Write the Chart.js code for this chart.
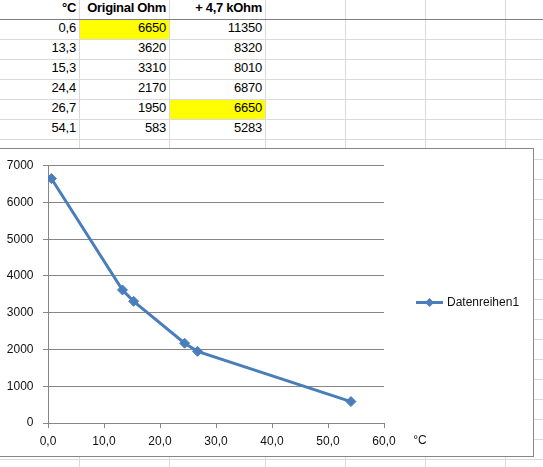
<!DOCTYPE html>
<html>
<head>
<meta charset="utf-8">
<script src="https://cdn.jsdelivr.net/npm/chart.js@4.4.1/dist/chart.umd.min.js"></script>
<style>
  html, body { margin: 0; padding: 0; background: #fff; overflow: hidden; }
  #sheet { position: absolute; left: 0; top: 0; width: 543px; height: 467px; }
  .vl { position: absolute; top: 0; width: 1px; height: 467px; background: #dadada; }
  .hl { position: absolute; left: 0; width: 543px; height: 1px; background: #dadada; }
  .hl.dark { background: #7f7f7f; }
  .cell {
    position: absolute; height: 19px; line-height: 21px; text-align: right;
    padding-right: 3px; box-sizing: border-box; white-space: nowrap;
    font: 13px 'Liberation Sans', sans-serif; color: #000; letter-spacing: -0.2px;
  }
  .cell.hdr { font-weight: bold; letter-spacing: -0.3px; }
  .cell.mark { background: #ffff00; }
  #frame { position: absolute; left: -1px; top: 148px; width: 533px; height: 307px;
           border: 1px solid #868686; background: #fff; }
  #chart { display: block; }
</style>
</head>
<body>
<div id="sheet"></div>
<div id="frame"><canvas id="chart" width="533" height="307"></canvas></div>
<script>
// spreadsheet data
const headers = ['°C', 'Original Ohm', '+ 4,7 kOhm'];
const tempC = [0.6, 13.3, 15.3, 24.4, 26.7, 54.1];
const originalOhm = [6650, 3620, 3310, 2170, 1950, 583];
const plus47kOhm = [11350, 8320, 8010, 6870, 6650, 5283];
const highlighted = ['1-1', '5-2']; // row-col of the yellow cells
const seriesName = 'Datenreihen1';
const unitLabel = '°C';

// sheet layout
const colLines = [79, 169, 265, 345, 425, 505];
const colLeft = [0, 80, 170];
const colWidth = [79, 89, 95];
const blue = '#4A7EBB';
const gray = '#868686';
const textColor = '#111';

const sheet = document.getElementById('sheet');
colLines.forEach(x => {
  const d = document.createElement('div');
  d.className = 'vl'; d.style.left = x + 'px';
  sheet.appendChild(d);
});
for (let r = 0; r < 24; r++) {
  const d = document.createElement('div');
  d.className = 'hl' + (r === 0 ? ' dark' : '');
  d.style.top = (19 + r * 20) + 'px';
  sheet.appendChild(d);
}

function fmt(v) { return String(v).replace('.', ','); }
const rows = [headers].concat(tempC.map((t, i) => [t.toFixed(1), originalOhm[i], plus47kOhm[i]].map(fmt)));
rows.forEach((row, r) => {
  row.forEach((txt, c) => {
    const d = document.createElement('div');
    d.className = 'cell' + (r === 0 ? ' hdr' : '') + (highlighted.includes(r + '-' + c) ? ' mark' : '');
    d.style.left = colLeft[c] + 'px';
    d.style.width = colWidth[c] + 'px';
    d.style.top = (r * 20) + 'px';
    d.textContent = txt;
    sheet.appendChild(d);
  });
});

// unit label + legend drawn beside the plot, like Excel
const sheetExtras = {
  id: 'sheetExtras',
  afterDraw(chart) {
    const ctx = chart.ctx;
    const xs = chart.scales.x;
    ctx.save();
    ctx.font = '12px "Liberation Sans", sans-serif';
    ctx.fillStyle = textColor;
    ctx.textAlign = 'center';
    ctx.textBaseline = 'middle';
    ctx.fillText(unitLabel, xs.right + 36, xs.top + 5 + 6 + 7);

    const ds = chart.data.datasets[0];
    const ly = chart.height / 2;
    const lx = xs.right + 32;
    ctx.strokeStyle = ds.borderColor;
    ctx.lineWidth = 3;
    ctx.beginPath();
    ctx.moveTo(lx, ly); ctx.lineTo(lx + 27, ly);
    ctx.stroke();
    const cx = lx + 13.5, r = 4.5;
    ctx.fillStyle = ds.backgroundColor;
    ctx.beginPath();
    ctx.moveTo(cx, ly - r); ctx.lineTo(cx + r, ly); ctx.lineTo(cx, ly + r); ctx.lineTo(cx - r, ly);
    ctx.closePath(); ctx.fill();

    ctx.fillStyle = textColor;
    ctx.font = '12px "Liberation Sans", sans-serif';
    ctx.textAlign = 'left';
    ctx.fillText(ds.label, lx + 31, ly);
    ctx.restore();
  }
};

const tickFont = { family: 'Liberation Sans', size: 12 };

new Chart(document.getElementById('chart'), {
  type: 'scatter',
  data: {
    datasets: [{
      label: seriesName,
      data: tempC.map((x, i) => ({ x: x, y: originalOhm[i] })),
      showLine: true,
      borderColor: blue,
      backgroundColor: blue,
      borderWidth: 3,
      pointStyle: 'rectRot',
      pointRadius: 5,
      pointBorderWidth: 1,
      tension: 0
    }]
  },
  options: {
    responsive: false,
    animation: false,
    devicePixelRatio: 1,
    layout: { padding: { left: 0, top: 14, right: 149, bottom: 0 } },
    plugins: {
      legend: { display: false },
      tooltip: { enabled: false }
    },
    scales: {
      x: {
        type: 'linear',
        min: 0,
        max: 60,
        ticks: {
          stepSize: 10,
          callback: v => v.toFixed(1).replace('.', ','),
          font: tickFont,
          color: textColor,
          padding: 6,
          maxRotation: 0
        },
        grid: { drawOnChartArea: false, drawTicks: true, tickLength: 5, color: gray },
        border: { color: gray },
        afterFit: s => { s.height = 33; }
      },
      y: {
        min: 0,
        max: 7000,
        ticks: {
          stepSize: 1000,
          callback: v => String(v),
          font: tickFont,
          color: textColor,
          padding: 9.5
        },
        grid: { color: gray, tickLength: 5 },
        border: { color: gray },
        afterFit: s => { s.width = 48; }
      }
    }
  },
  plugins: [sheetExtras]
});
</script>
</body>
</html>
